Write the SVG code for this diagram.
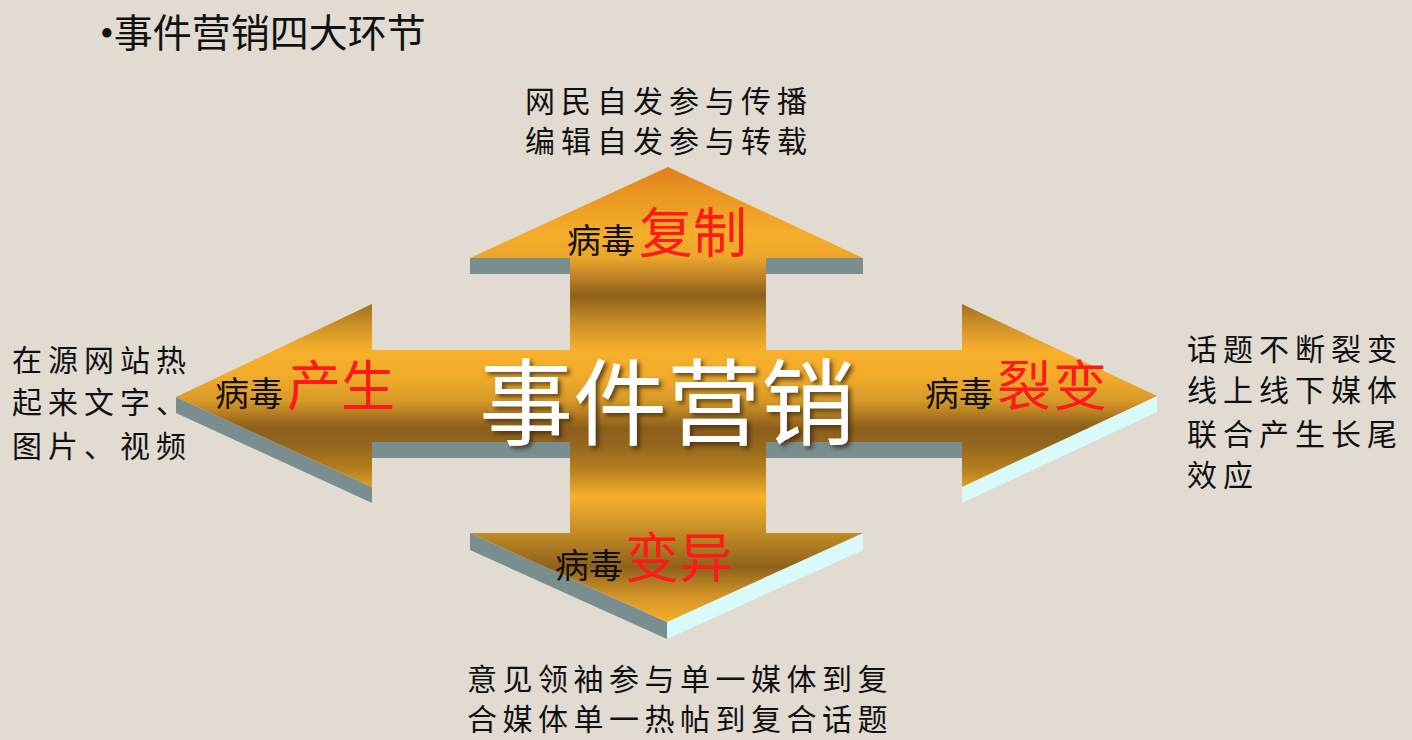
<svg xmlns="http://www.w3.org/2000/svg" width="1412" height="740" viewBox="0 0 1412 740">
<style>
.t{font-family:"Noto Sans CJK SC","Noto Sans",sans-serif;fill:#111;}
.note{font-size:30px;letter-spacing:6px;}
.small{font-size:34px;fill:#111;}
.big{font-size:54px;fill:#FF1A1A;}
.gray{fill:#7A8E90;}
.cyan{fill:#D8FAFA;}
</style>
<defs>
<linearGradient id="gold" gradientUnits="userSpaceOnUse" x1="0" y1="167" x2="0" y2="640">
<stop offset="0" stop-color="#E07F1C"/>
<stop offset="0.07" stop-color="#EC9A22"/>
<stop offset="0.144" stop-color="#F5AE2A"/>
<stop offset="0.192" stop-color="#EBA52A"/>
<stop offset="0.23" stop-color="#C08526"/>
<stop offset="0.271" stop-color="#8E601C"/>
<stop offset="0.324" stop-color="#C48A26"/>
<stop offset="0.387" stop-color="#F6B02C"/>
<stop offset="0.44" stop-color="#F2AC2A"/>
<stop offset="0.493" stop-color="#D89A28"/>
<stop offset="0.552" stop-color="#8C5E1A"/>
<stop offset="0.588" stop-color="#94661E"/>
<stop offset="0.64" stop-color="#B5801F"/>
<stop offset="0.698" stop-color="#F6B02B"/>
<stop offset="0.767" stop-color="#C88E26"/>
<stop offset="0.8" stop-color="#B07C22"/>
<stop offset="0.846" stop-color="#8E621C"/>
<stop offset="0.905" stop-color="#D29326"/>
<stop offset="0.962" stop-color="#F6AE2A"/>
<stop offset="1" stop-color="#F6AE2A"/>
</linearGradient>
<filter id="shadow" x="-10%" y="-10%" width="130%" height="130%">
<feDropShadow dx="3" dy="3" stdDeviation="2" flood-color="#3a2a10" flood-opacity="0.75"/>
</filter>
</defs>
<rect width="1412" height="740" fill="#E2DBD1"/>

<g id="title">
<text x="100" y="47" style="font-family:'Liberation Serif','Noto Sans CJK SC',serif;font-size:39px;fill:#111;">•<tspan style="font-family:'Noto Sans CJK SC',sans-serif;">事件营销四大环节</tspan></text>
</g>

<g id="cross">
<g id="sides">
<rect class="gray" x="470" y="258" width="100" height="16"/>
<rect class="gray" x="766" y="258" width="97" height="16"/>
<rect class="gray" x="372" y="442" width="198" height="16"/>
<rect class="gray" x="766" y="442" width="196" height="16"/>
<polygon class="gray" points="176,397 372,487 372,503 176,413"/>
<polygon class="cyan" points="1157,396 962,487 962,503 1157,412"/>
<polygon class="gray" points="470,533 667,622 667,639 470,550"/>
<polygon class="cyan" points="667,622 863,533 863,550 667,639"/>
</g>
<polygon id="face" fill="url(#gold)" points="668,167 863,258 766,258 766,350 962,350 962,304 1157,396 962,487 962,442 766,442 766,533 863,533 667,622 470,533 570,533 570,442 372,442 372,487 176,397 372,304 372,350 570,350 570,258 470,258"/>
</g>

<g id="center">
<text x="667" y="438" text-anchor="middle" filter="url(#shadow)" style="font-family:'Noto Sans CJK SC',sans-serif;font-size:94px;fill:#FFFFFF;">事件营销</text>
</g>

<g id="node-up">
<text class="t" y="253"><tspan class="small" x="567">病毒</tspan><tspan class="big" x="639">复制</tspan></text>
<text class="t note" x="525" y="112">网民自发参与传播</text>
<text class="t note" x="525" y="152">编辑自发参与转载</text>
</g>

<g id="node-left">
<text class="t" y="406"><tspan class="small" x="215">病毒</tspan><tspan class="big" x="287">产生</tspan></text>
<text class="t note" x="12" y="371">在源网站热</text>
<text class="t note" x="12" y="413">起来文字、</text>
<text class="t note" x="12" y="457">图片、视频</text>
</g>

<g id="node-right">
<text class="t" y="406"><tspan class="small" x="925">病毒</tspan><tspan class="big" x="997" style="letter-spacing:2px">裂变</tspan></text>
<text class="t note" x="1187" y="360">话题不断裂变</text>
<text class="t note" x="1187" y="401">线上线下媒体</text>
<text class="t note" x="1187" y="445">联合产生长尾</text>
<text class="t note" x="1187" y="486">效应</text>
</g>

<g id="node-down">
<text class="t" y="578"><tspan class="small" x="555">病毒</tspan><tspan class="big" x="625">变异</tspan></text>
<text class="t note" x="467" y="690" style="letter-spacing:5.5px">意见领袖参与单一媒体到复</text>
<text class="t note" x="467" y="730" style="letter-spacing:5.5px">合媒体单一热帖到复合话题</text>
</g>
</svg>
